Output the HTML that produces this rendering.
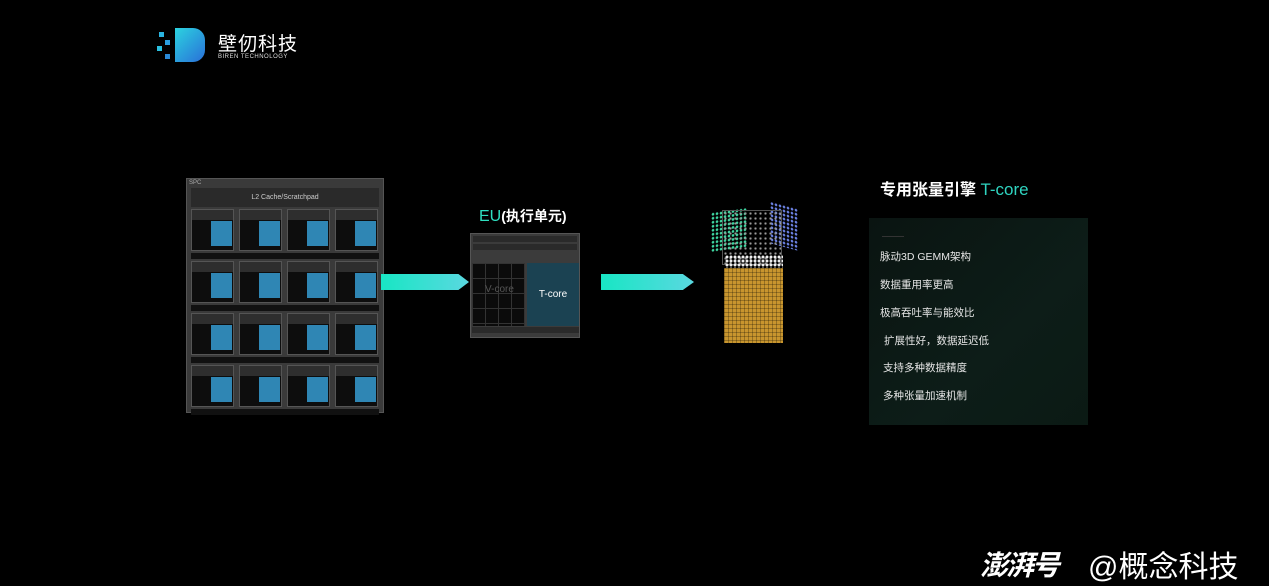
<!DOCTYPE html>
<html><head><meta charset="utf-8"><style>
*{margin:0;padding:0;box-sizing:border-box}
body{width:1269px;height:586px;background:#000;position:relative;overflow:hidden;font-family:"Liberation Sans","Noto Sans CJK SC",sans-serif;color:#fff}
.a{position:absolute}
.spc{left:186px;top:178px;width:198px;height:235px;background:#3a3a3a;border:1px solid #555}
.l2{left:4px;top:9px;width:188px;height:19px;background:#2a2a2a;color:#ccc;font-size:7px;text-align:center;line-height:19px}
.blk{width:43px;height:42px;background:#0d0d0d;border:1px solid #555;position:relative}
.blk .h{position:absolute;left:0;top:0;width:100%;height:10px;background:#2e2e2e}
.blk .b{position:absolute;right:1px;top:11px;width:21px;height:25px;background:#2f86b4}
.band{width:188px;height:6px;background:#111}
.arrow{height:16px;background:linear-gradient(90deg,#18e6c4,#5ad8e0);clip-path:polygon(0 0,88% 0,100% 50%,88% 100%,0 100%)}
.eu{left:470px;top:233px;width:110px;height:105px;background:#3b3b3b;border:1px solid #555}
.li{font-size:10.5px;color:#e6e6e6;left:880px}
</style></head><body>
<!-- logo -->
<div class="a" style="left:155px;top:28px;width:50px;height:34px">
<div class="a" style="left:20px;top:0;width:30px;height:34px;background:linear-gradient(135deg,#2bd3e0,#2a6fd8);border-radius:0 12px 12px 0"></div>
<div class="a" style="left:4px;top:4px;width:5px;height:5px;background:#2ab4e0"></div>
<div class="a" style="left:10px;top:12px;width:5px;height:5px;background:#2a9fe0"></div>
<div class="a" style="left:2px;top:18px;width:5px;height:5px;background:#2ac0e0"></div>
<div class="a" style="left:10px;top:26px;width:5px;height:5px;background:#2a8ad8"></div>
</div>
<div class="a" style="left:218px;top:29px;font-size:19px;letter-spacing:1px">壁仞科技</div>
<div class="a" style="left:218px;top:54px;font-size:6px;letter-spacing:.5px;color:#ddd">BIREN TECHNOLOGY</div>

<!-- SPC -->
<div class="a spc">
<div class="a" style="left:2px;top:1px;font-size:6px;color:#aaa">SPC</div>
<div class="a l2">L2 Cache/Scratchpad</div>
<div class="a" style="left:4px;top:30px;display:grid;grid-template-columns:repeat(4,43px);column-gap:5px;grid-template-rows:42px 6px 42px 6px 42px 6px 42px 6px;row-gap:2px">
<div class="blk"><div class="h"></div><div class="b"></div></div><div class="blk"><div class="h"></div><div class="b"></div></div><div class="blk"><div class="h"></div><div class="b"></div></div><div class="blk"><div class="h"></div><div class="b"></div></div>
<div class="band" style="grid-column:1/5"></div>
<div class="blk"><div class="h"></div><div class="b"></div></div><div class="blk"><div class="h"></div><div class="b"></div></div><div class="blk"><div class="h"></div><div class="b"></div></div><div class="blk"><div class="h"></div><div class="b"></div></div>
<div class="band" style="grid-column:1/5"></div>
<div class="blk"><div class="h"></div><div class="b"></div></div><div class="blk"><div class="h"></div><div class="b"></div></div><div class="blk"><div class="h"></div><div class="b"></div></div><div class="blk"><div class="h"></div><div class="b"></div></div>
<div class="band" style="grid-column:1/5"></div>
<div class="blk"><div class="h"></div><div class="b"></div></div><div class="blk"><div class="h"></div><div class="b"></div></div><div class="blk"><div class="h"></div><div class="b"></div></div><div class="blk"><div class="h"></div><div class="b"></div></div>
<div class="band" style="grid-column:1/5"></div>
</div>
</div>

<div class="a arrow" style="left:381px;top:274px;width:88px"></div>
<div class="a arrow" style="left:601px;top:274px;width:93px"></div>

<!-- EU -->
<div class="a" style="left:479px;top:206px;font-size:14px;font-weight:bold"><span style="color:#2fe0c0;font-size:16px;font-weight:normal">EU</span>(执行单元)</div>
<div class="a eu">
<div class="a" style="left:2px;top:2px;width:104px;height:6px;background:#2a2a2a"></div>
<div class="a" style="left:2px;top:10px;width:104px;height:6px;background:#2a2a2a"></div>
<div class="a" style="left:1px;top:29px;width:53px;height:63px;background:#0b0b0b;background-image:linear-gradient(#333 1px,transparent 1px),linear-gradient(90deg,#333 1px,transparent 1px);background-size:13px 15px"></div>
<div class="a" style="left:14px;top:50px;font-size:10px;color:#555">V-core</div>
<div class="a" style="left:56px;top:29px;width:52px;height:63px;background:#1b4252;color:#fff;font-size:10px;text-align:center;line-height:63px">T-core</div>
<div class="a" style="left:1px;top:93px;width:107px;height:6px;background:#2a2a2a"></div>
</div>

<!-- cube -->
<div class="a" style="left:711px;top:210px;width:36px;height:40px;background-image:radial-gradient(#3ed5a0 1.2px,transparent 1.5px);background-size:4px 4px;transform:skewY(-8deg)"></div>
<div class="a" style="left:770px;top:205px;width:28px;height:42px;background-image:radial-gradient(#6a80e0 1.2px,transparent 1.5px);background-size:4px 4px;transform:skewY(15deg)"></div>
<div class="a" style="left:722px;top:210px;width:60px;height:55px;border:1px solid #555;background-image:radial-gradient(#9a9a9a 1px,transparent 1.3px);background-size:5px 5px"></div>
<div class="a" style="left:725px;top:255px;width:58px;height:14px;background-image:radial-gradient(#eee 1.3px,transparent 1.6px);background-size:4px 4px"></div>
<div class="a" style="left:724px;top:268px;width:59px;height:75px;background:#c8952e;background-image:linear-gradient(90deg,rgba(0,0,0,.25) 1px,transparent 1px),linear-gradient(rgba(0,0,0,.25) 1px,transparent 1px);background-size:4px 4px"></div>

<!-- right panel -->
<div class="a" style="left:869px;top:218px;width:219px;height:207px;background:linear-gradient(135deg,#0a1411,#0d1d18 60%,#0b1a14)"></div>
<div class="a" style="left:880px;top:176px;font-size:16px;font-weight:bold">专用张量引擎 <span style="color:#2fd4c0;font-weight:normal;font-size:17px">T-core</span></div>
<div class="a" style="left:882px;top:236px;width:22px;height:1px;background:#333"></div>
<div class="a li" style="top:249px">脉动3D GEMM架构</div>
<div class="a li" style="top:277px">数据重用率更高</div>
<div class="a li" style="top:305px">极高吞吐率与能效比</div>
<div class="a li" style="top:333px;left:884px">扩展性好，数据延迟低</div>
<div class="a li" style="top:360px;left:883px">支持多种数据精度</div>
<div class="a li" style="top:388px;left:883px">多种张量加速机制</div>

<!-- watermark -->
<div class="a" style="left:980px;top:544px;font-size:28px;font-weight:bold;font-style:italic;letter-spacing:-2px">澎湃号</div>
<div class="a" style="left:1088px;top:542px;font-size:30px">@概念科技</div>
</body></html>
